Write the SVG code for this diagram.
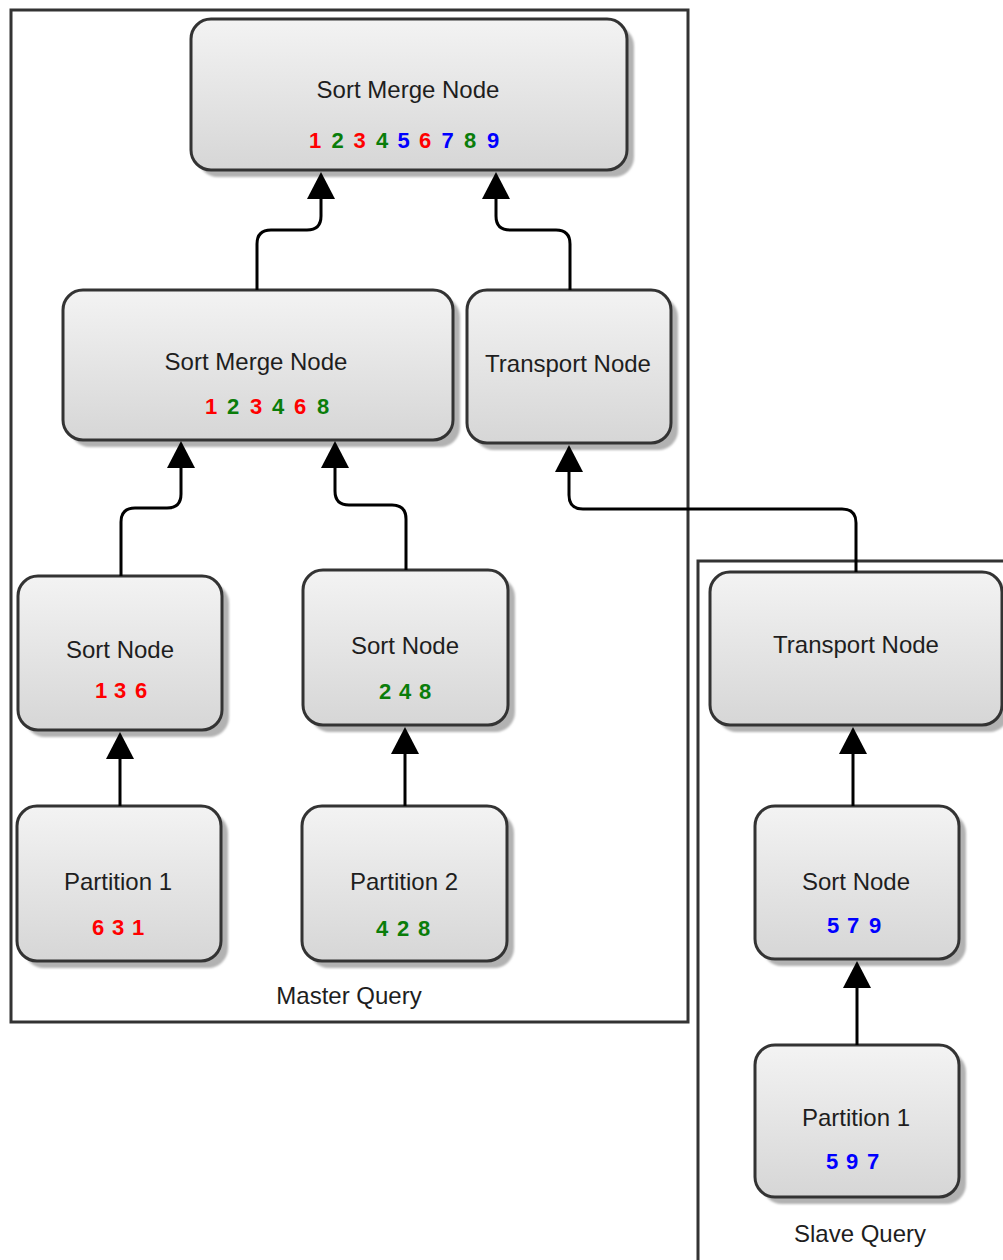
<svg xmlns="http://www.w3.org/2000/svg" width="1003" height="1260" viewBox="0 0 1003 1260">
  <defs>
    <linearGradient id="nodeFill" x1="0" y1="0" x2="0" y2="1">
      <stop offset="0" stop-color="#f3f3f3"/>
      <stop offset="1" stop-color="#d6d6d6"/>
    </linearGradient>
    <filter id="soft" x="-5%" y="-5%" width="110%" height="110%">
      <feGaussianBlur stdDeviation="1"/>
    </filter>
    <marker id="arrow" markerUnits="userSpaceOnUse" markerWidth="27" markerHeight="28" refX="0" refY="14" orient="auto" overflow="visible">
      <path d="M0,0 L27,14 L0,28 Z" fill="#000"/>
    </marker>
  </defs>
  <style>
    .group { fill: none; stroke: #333; stroke-width: 3; }
    .shadow { fill: #b2b2b2; filter: url(#soft); }
    .box { fill: url(#nodeFill); stroke: #333; stroke-width: 3; }
    .label { font-family: "Liberation Sans", Arial, sans-serif; font-size: 24px; fill: #1e1e1e; text-anchor: middle; }
    .num { font-family: "Liberation Sans", Arial, sans-serif; font-size: 22px; font-weight: bold; text-anchor: middle; }
    .r { fill: #ff0000; }
    .g { fill: #0a7d0a; }
    .b { fill: #0000ff; }
    .edge { fill: none; stroke: #000; stroke-width: 3; marker-end: url(#arrow); }
  </style>

  <rect width="1003" height="1260" fill="#fff"/>

  <!-- query containers -->
  <g id="master-query">
    <rect class="group" x="11" y="10" width="677" height="1012"/>
    <text class="label" x="349" y="1004">Master Query</text>
  </g>
  <g id="slave-query">
    <rect class="group" x="698" y="561" width="340" height="760"/>
    <text class="label" x="860" y="1242">Slave Query</text>
  </g>

  <!-- nodes -->
  <g id="sort-merge-top">
    <rect class="shadow" x="198" y="26" width="436" height="151" rx="20"/>
    <rect class="box" x="191" y="19" width="436" height="151" rx="20"/>
    <text class="label" x="408" y="98">Sort Merge Node</text>
    <text class="num" y="148"><tspan class="r" x="315">1</tspan><tspan class="g" x="337.5">2</tspan><tspan class="r" x="359.5">3</tspan><tspan class="g" x="382">4</tspan><tspan class="b" x="403.5">5</tspan><tspan class="r" x="425">6</tspan><tspan class="b" x="447.5">7</tspan><tspan class="g" x="470">8</tspan><tspan class="b" x="493">9</tspan></text>
  </g>

  <g id="sort-merge-mid">
    <rect class="shadow" x="70" y="297" width="390" height="150" rx="20"/>
    <rect class="box" x="63" y="290" width="390" height="150" rx="20"/>
    <text class="label" x="256" y="370">Sort Merge Node</text>
    <text class="num" y="414"><tspan class="r" x="211">1</tspan><tspan class="g" x="233">2</tspan><tspan class="r" x="256">3</tspan><tspan class="g" x="278">4</tspan><tspan class="r" x="300">6</tspan><tspan class="g" x="323">8</tspan></text>
  </g>

  <g id="transport-master">
    <rect class="shadow" x="474" y="297" width="204" height="153" rx="20"/>
    <rect class="box" x="467" y="290" width="204" height="153" rx="20"/>
    <text class="label" x="568" y="372">Transport Node</text>
  </g>

  <g id="sort-node-1">
    <rect class="shadow" x="25" y="583" width="204" height="154" rx="20"/>
    <rect class="box" x="18" y="576" width="204" height="154" rx="20"/>
    <text class="label" x="120" y="658">Sort Node</text>
    <text class="num" y="698"><tspan class="r" x="101">1</tspan><tspan class="r" x="120">3</tspan><tspan class="r" x="141">6</tspan></text>
  </g>

  <g id="sort-node-2">
    <rect class="shadow" x="310" y="577" width="205" height="155" rx="20"/>
    <rect class="box" x="303" y="570" width="205" height="155" rx="20"/>
    <text class="label" x="405" y="654">Sort Node</text>
    <text class="num" y="699"><tspan class="g" x="385">2</tspan><tspan class="g" x="405">4</tspan><tspan class="g" x="425">8</tspan></text>
  </g>

  <g id="partition-1">
    <rect class="shadow" x="24" y="813" width="204" height="155" rx="20"/>
    <rect class="box" x="17" y="806" width="204" height="155" rx="20"/>
    <text class="label" x="118" y="890">Partition 1</text>
    <text class="num" y="935"><tspan class="r" x="98">6</tspan><tspan class="r" x="118">3</tspan><tspan class="r" x="138">1</tspan></text>
  </g>

  <g id="partition-2">
    <rect class="shadow" x="309" y="813" width="205" height="155" rx="20"/>
    <rect class="box" x="302" y="806" width="205" height="155" rx="20"/>
    <text class="label" x="404" y="890">Partition 2</text>
    <text class="num" y="936"><tspan class="g" x="382">4</tspan><tspan class="g" x="403">2</tspan><tspan class="g" x="424">8</tspan></text>
  </g>

  <g id="transport-slave">
    <rect class="shadow" x="717" y="579" width="292" height="153" rx="20"/>
    <rect class="box" x="710" y="572" width="292" height="153" rx="20"/>
    <text class="label" x="856" y="653">Transport Node</text>
  </g>

  <g id="sort-node-slave">
    <rect class="shadow" x="762" y="813" width="204" height="153" rx="20"/>
    <rect class="box" x="755" y="806" width="204" height="153" rx="20"/>
    <text class="label" x="856" y="890">Sort Node</text>
    <text class="num" y="933"><tspan class="b" x="833">5</tspan><tspan class="b" x="853">7</tspan><tspan class="b" x="875">9</tspan></text>
  </g>

  <g id="partition-slave">
    <rect class="shadow" x="762" y="1052" width="204" height="152" rx="20"/>
    <rect class="box" x="755" y="1045" width="204" height="152" rx="20"/>
    <text class="label" x="856" y="1126">Partition 1</text>
    <text class="num" y="1169"><tspan class="b" x="832">5</tspan><tspan class="b" x="852">9</tspan><tspan class="b" x="873">7</tspan></text>
  </g>

  <!-- connectors, drawn above node shadows so arrow tips reach the borders -->
  <g id="connectors">
    <path class="edge" d="M257,290 V244 Q257,230 271,230 H307 Q321,230 321,216 V199"/>
    <path class="edge" d="M570,290 V244 Q570,230 556,230 H510 Q496,230 496,216 V199"/>
    <path class="edge" d="M121,576 V522 Q121,508 135,508 H167 Q181,508 181,494 V468"/>
    <path class="edge" d="M406,570 V519 Q406,505 392,505 H349 Q335,505 335,491 V468"/>
    <path class="edge" d="M856,572 V523 Q856,509 842,509 H583 Q569,509 569,495 V472"/>
    <path class="edge" d="M120,806 V759"/>
    <path class="edge" d="M405,806 V754"/>
    <path class="edge" d="M853,806 V754"/>
    <path class="edge" d="M857,1045 V988"/>
  </g>
</svg>
